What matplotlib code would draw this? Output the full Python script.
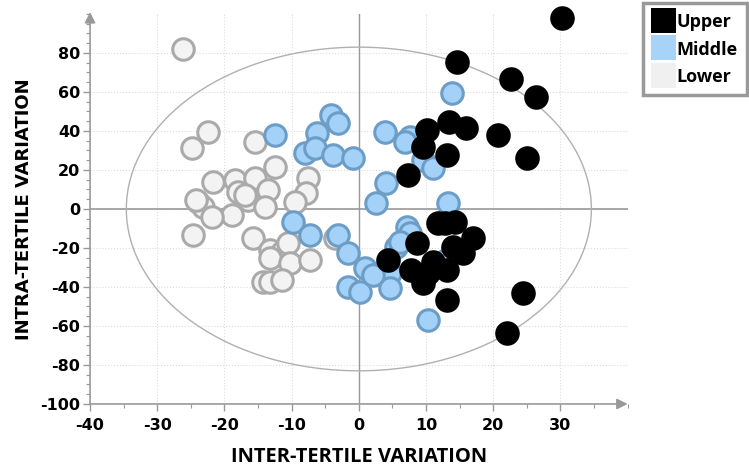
import matplotlib.pyplot as plt
from matplotlib.patches import Ellipse
from matplotlib.lines import Line2D
from matplotlib.ticker import MultipleLocator

plt.rcParams['axes.unicode_minus'] = False

# scores
lower_x = [-26.1, -22.4, -24.9, -15.5, -21.7, -18.5, -15.5, -12.5, -13.5, -16.5, -18.0,
           -14.0, -18.9, -23.9, -23.2, -21.9, -24.7, -7.5, -7.8, -9.5, -15.7, -13.2,
           -11.5, -10.5, -13.2, -10.3, -7.3, -14.2, -13.2, -11.5, -3.6, -24.2, -17.0]
lower_y = [82, 39.6, 31.1, 34.2, 13.7, 14.9, 15.7, 21.7, 9.7, 4.6, 8.9,
           1.2, -3.1, 3.7, 1.2, -3.9, -13.3, 15.7, 8.0, 3.7, -15.0, -21.0,
           -21.9, -17.6, -25.3, -27.8, -26.2, -37.3, -37.3, -36.4, -15.0, 4.6, 7.0]

middle_x = [-12.5, -4.1, -3.1, -6.3, -8.0, -6.5, -3.8, -0.8, 3.9, 7.6, 6.8,
            4.1, 2.6, -9.8, -7.3, -3.1, -1.6, 0.9, -1.6, 0.1, 4.6, 4.6,
            7.1, 7.6, 2.1, 13.8, 9.6, 11.1, 13.3, 5.6, 10.3, 6.1, 12.9]
middle_y = [38, 48.2, 44.3, 38.8, 28.6, 31.1, 27.7, 26, 39.6, 37, 34.5,
            13.2, 2.9, -6.5, -13.3, -13.3, -22.7, -30.4, -39.8, -42.4, -33, -40.7,
            -9.1, -12.5, -33.8, 59.6, 25.1, 20.9, 3.2, -19.3, -57, -16.8, -26]

upper_x = [30.3, 14.6, 22.6, 26.4, 10.1, 13.4, 16.0, 20.7, 9.6, 13.1, 25.0, 7.3,
           24.4, 22.1, 4.4, 8.6, 11.8, 14.3, 17.0, 14.0, 15.5, 7.8, 9.6, 11.1,
           13.1, 13.1, 10.3, 12.8]
upper_y = [97.8, 75.5, 66.5, 57.6, 40.5, 44.8, 41.4, 37.9, 32, 27.7, 26, 17.4,
           -43.2, -63.7, -26.2, -17.6, -7.3, -6.5, -15, -19.3, -22.7, -31.3, -38.1, -27,
           -31.3, -46.7, -33, -7.0]

x_ticks = [-40, -30, -20, -10, 0, 10, 20, 30]
y_ticks = [-100, -80, -60, -40, -20, 0, 20, 40, 60, 80]
legend_labels = ['Upper', 'Middle', 'Lower']

fig = plt.figure(figsize=(7.49, 4.68), dpi=100)
ax = fig.add_axes([0.1202, 0.1368, 0.7178, 0.8333])
ax.set_xlim(-40, 40)
ax.set_ylim(-100, 100)

for s in ax.spines.values():
    s.set_visible(False)

# dotted grid
for gx in x_ticks[1:]:
    ax.axvline(gx, color='#dcdcdc', lw=0.8, ls=':', zorder=0)
for gy in y_ticks[1:]:
    ax.axhline(gy, color='#dcdcdc', lw=0.8, ls=':', zorder=0)

ax.axhline(0, color='#999999', lw=1.2, zorder=1)
ax.axvline(0, color='#999999', lw=1.0, zorder=1)

ax.add_patch(Ellipse((0, 0), 69.2, 166, fill=False, edgecolor='#b0b0b0', lw=1.0, zorder=1))

# axes with arrows
ax.annotate('', xy=(-40, 101), xytext=(-40, -100), annotation_clip=False,
            arrowprops=dict(arrowstyle='-|>', color='#999999', lw=1.2, mutation_scale=16,
                            shrinkA=0, shrinkB=0))
ax.annotate('', xy=(40, -100), xytext=(-40, -100), annotation_clip=False,
            arrowprops=dict(arrowstyle='-|>', color='#999999', lw=1.2, mutation_scale=16,
                            shrinkA=0, shrinkB=0))

ax.scatter(lower_x, lower_y, s=240, c='#f3f3f3', edgecolors='#aaaaaa', linewidths=2.2,
           zorder=3, clip_on=False)
ax.scatter(middle_x, middle_y, s=240, c='#a3d1f8', edgecolors='#6b9dc6', linewidths=2.2,
           zorder=4, clip_on=False)
ax.scatter(upper_x, upper_y, s=240, c='black', edgecolors='black', linewidths=2.2,
           zorder=5, clip_on=False)

ax.set_xticks(x_ticks)
ax.set_yticks(y_ticks)
ax.xaxis.set_minor_locator(MultipleLocator(5))
ax.yaxis.set_minor_locator(MultipleLocator(5))
ax.tick_params(which='major', length=5, width=1, color='#999999', direction='out',
               labelsize=11.5, pad=2)
ax.tick_params(which='minor', length=3, width=0.8, color='#999999', direction='out')
ax.tick_params(axis='x', pad=5)
for lab in ax.get_xticklabels() + ax.get_yticklabels():
    lab.set_fontweight('bold')
    lab.set_family('DejaVu Sans')

fig.text(359 / 749, 1 - 457 / 468, 'INTER-TERTILE VARIATION', ha='center', va='center',
         fontsize=14.5, fontweight='bold', family='Open Sans')
fig.text(24 / 749, 1 - 209 / 468, 'INTRA-TERTILE VARIATION', ha='center', va='center',
         rotation=90, fontsize=13, fontweight='bold', family='DejaVu Sans')

handles = [Line2D([], [], marker='s', ls='', markersize=18, color=c, markeredgewidth=0)
           for c in ['black', '#a6d3f7', '#f0f0f0']]
leg = fig.legend(handles, legend_labels, loc='upper right',
                 bbox_to_anchor=(747 / 749, 1 - 3 / 468), frameon=True, fancybox=False,
                 edgecolor='#999999', framealpha=1, borderpad=0.5, labelspacing=0.45,
                 handletextpad=0.15, handlelength=1.2, handleheight=1.2, borderaxespad=0,
                 prop={'family': 'Open Sans', 'weight': 'bold', 'size': 13})
leg.get_frame().set_linewidth(2.5)

fig.savefig('out.png', dpi=100)
